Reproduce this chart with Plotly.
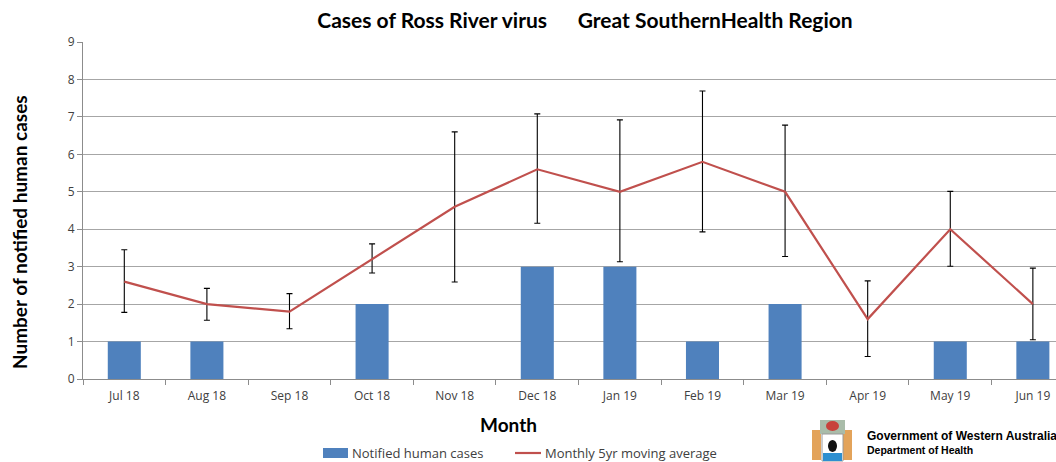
import plotly.graph_objects as go

months = ["Jul 18", "Aug 18", "Sep 18", "Oct 18", "Nov 18", "Dec 18",
          "Jan 19", "Feb 19", "Mar 19", "Apr 19", "May 19", "Jun 19"]
cases = [1, 1, 0, 2, 0, 3, 3, 1, 2, 0, 1, 1]
moving_avg = [2.6, 2.0, 1.8, 3.2, 4.6, 5.6, 5.0, 5.8, 5.0, 1.6, 4.0, 2.0]
err_high = [3.45, 2.42, 2.28, 3.61, 6.60, 7.08, 6.92, 7.69, 6.78, 2.62, 5.01, 2.96]
err_low = [1.78, 1.57, 1.34, 2.83, 2.59, 4.16, 3.13, 3.93, 3.27, 0.60, 3.01, 1.05]

plus = [h - v for h, v in zip(err_high, moving_avg)]
minus = [v - l for l, v in zip(err_low, moving_avg)]

BAR_COLOR = "#4f81bd"
LINE_COLOR = "#c0504d"

W, H = 1056, 462
L, R, T, B = 83, 0, 42, 83
PW, PH = W - L - R, H - T - B


def px(x):
    return (x - L) / PW


def py(y):
    return (H - B - y) / PH


fig = go.Figure()
fig.add_trace(go.Bar(
    x=months, y=cases, name="Notified human cases",
    marker=dict(color=BAR_COLOR, line=dict(width=0)),
    width=0.4,
))
fig.add_trace(go.Scatter(
    x=months, y=moving_avg, name="Monthly 5yr moving average",
    mode="lines", line=dict(color=LINE_COLOR, width=2.2),
    error_y=dict(type="data", symmetric=False, array=plus, arrayminus=minus,
                 color="#000000", thickness=1.1, width=3),
))

fig.update_layout(
    width=W, height=H,
    margin=dict(l=L, r=R, t=T, b=B, autoexpand=False),
    paper_bgcolor="white", plot_bgcolor="white",
    font=dict(family="Lato, Open Sans, sans-serif", color="#404040"),
    title=dict(text="Cases of Ross River virus      Great SouthernHealth Region",
               x=585 / W, xanchor="center", y=1 - 21 / H, yanchor="middle",
               font=dict(family="Lato", size=21, color="#000000", weight="bold")),
    bargap=0.6,
    showlegend=False,
    xaxis=dict(
        type="category", range=[-0.5, 11.28], automargin=False,
        showline=True, linecolor="#8c8c8c", linewidth=1,
        ticks="outside", tickson="boundaries", ticklen=5, tickcolor="#8c8c8c",
        tickfont=dict(family="Open Sans", size=12, color="#404040"),
        ticklabelstandoff=6,
        showgrid=False,
    ),
    yaxis=dict(
        range=[0, 9], dtick=1, tick0=0, automargin=False,
        showline=True, linecolor="#8c8c8c", linewidth=1,
        ticks="outside", ticklen=5, tickcolor="#8c8c8c",
        tickfont=dict(family="Open Sans", size=12, color="#404040"),
        showgrid=True, gridcolor="#a6a6a6", gridwidth=1,
        zeroline=False,
    ),
)

fig.add_annotation(text="<b>Number of notified human cases</b>", xref="paper", yref="paper",
                   x=px(20), y=py(232), xanchor="center", yanchor="middle", textangle=-90,
                   showarrow=False, font=dict(family="Lato", size=19, color="#000000"))
fig.add_annotation(text="<b>Month</b>", xref="paper", yref="paper",
                   x=px(508), y=py(424), xanchor="center", yanchor="middle",
                   showarrow=False, font=dict(family="Lato", size=19, color="#000000"))
fig.add_annotation(text="<b>Government of Western Australia</b>", xref="paper", yref="paper",
                   x=px(865), y=py(436), xanchor="left", yanchor="middle",
                   showarrow=False, font=dict(family="Liberation Sans", size=12, color="#000000"))
fig.add_annotation(text="<b>Department of Health</b>", xref="paper", yref="paper",
                   x=px(865), y=py(450), xanchor="left", yanchor="middle",
                   showarrow=False, font=dict(family="Liberation Sans", size=10.5, color="#000000"))


def shape(x0, y0, x1, y1, fill, line=None, kind="rect", lw=1):
    fig.add_shape(type=kind, xref="paper", yref="paper",
                  x0=px(x0), x1=px(x1), y0=py(y0), y1=py(y1),
                  fillcolor=fill, line=dict(color=line or fill, width=lw if line else 0),
                  layer="above")


# legend (drawn manually to match the wide Excel-style swatches)
shape(323, 448, 348, 458, BAR_COLOR)
fig.add_annotation(text="Notified human cases", xref="paper", yref="paper",
                   x=px(350), y=py(453), xanchor="left", yanchor="middle", showarrow=False,
                   font=dict(family="Open Sans", size=13, color="#404040"))
fig.add_shape(type="line", xref="paper", yref="paper", x0=px(515), x1=px(541),
              y0=py(453), y1=py(453), line=dict(color=LINE_COLOR, width=2.2))
fig.add_annotation(text="Monthly 5yr moving average", xref="paper", yref="paper",
                   x=px(543), y=py(453), xanchor="left", yanchor="middle", showarrow=False,
                   font=dict(family="Open Sans", size=13, color="#404040"))

# simple crest emblem (decoration)
shape(812, 430, 821, 460, "#e3a35a")
shape(843, 430, 852, 460, "#e3a35a")
shape(820, 420, 845, 434, "#a9bca9")
shape(826, 421, 839, 431, "#c8423b", kind="circle")
shape(822, 434, 843, 461, "#ffffff", "#9a9a9a")
shape(828, 440, 837, 452, "#111111", kind="circle")
shape(823, 453, 842, 461, "#2d8fd0")

fig.write_html("out.html", config={"displayModeBar": False},
               post_script="document.body.style.margin='0';document.body.style.overflow='hidden';")
